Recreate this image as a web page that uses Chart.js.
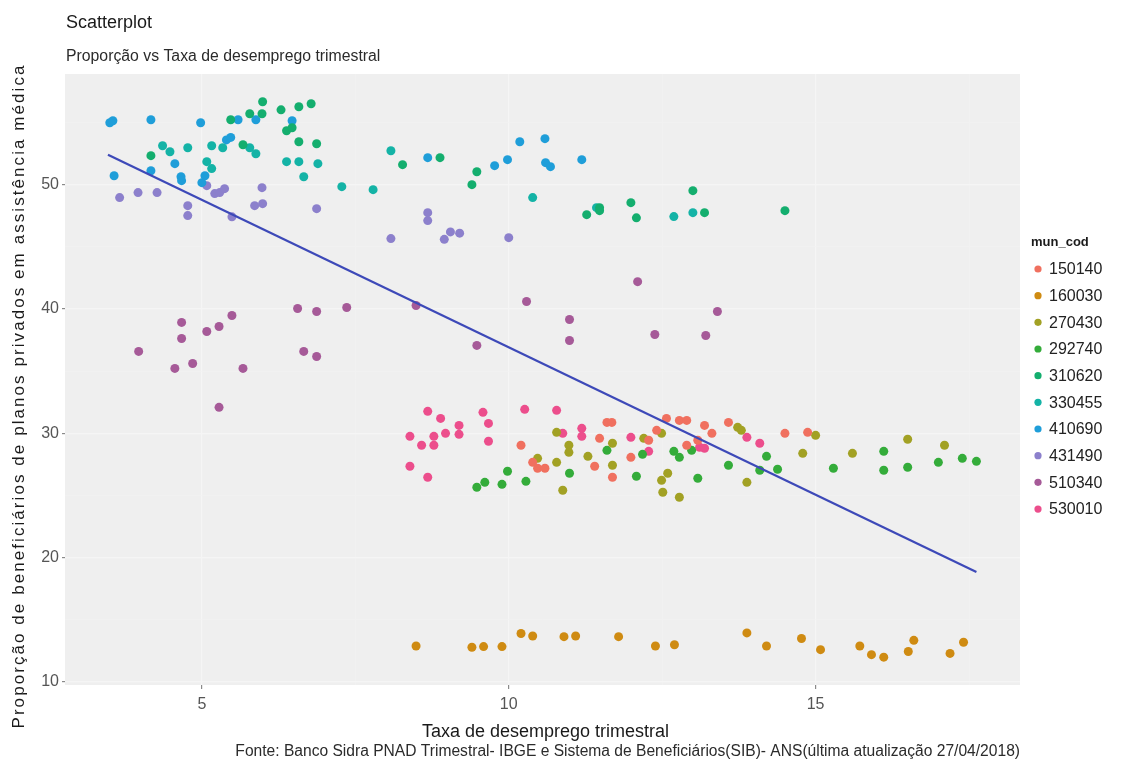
<!DOCTYPE html>
<html>
<head>
<meta charset="utf-8">
<script src="https://cdn.jsdelivr.net/npm/chart.js@4/dist/chart.umd.min.js"></script>
<style>
  html, body { margin: 0; padding: 0; background: #ffffff; }
  #wrap { width: 1136px; height: 767px; position: relative; }
</style>
</head>
<body>
<div id="wrap"><canvas id="c" width="1136" height="767"></canvas></div>
<script>
// ---------- data ----------
const munCod = ['150140','160030','270430','292740','310620','330455','410690','431490','510340','530010'];
const munColors = ['#F0705F','#CF8B12','#A2A124','#34AC3A','#14AE6E','#14B3A6','#1F9ED9','#8C80CC','#A65A98','#EC4E8C'];

const p150140 = [[10.20,29.04],[10.39,27.67],[10.47,27.19],[10.59,27.19],[11.40,27.35],[11.48,29.60],[11.60,30.88],[11.68,30.88],[11.69,26.47],[11.99,28.07],[12.28,29.44],[12.41,30.24],[12.57,31.20],[12.78,31.04],[12.90,31.04],[12.90,29.04],[13.08,29.44],[13.19,30.64],[13.31,30.00],[13.58,30.88],[14.50,30.00],[14.87,30.08]];
const p160030 = [[8.49,12.90],[9.40,12.80],[9.59,12.85],[9.89,12.85],[10.20,13.90],[10.39,13.70],[10.90,13.65],[11.09,13.70],[11.79,13.65],[12.39,12.90],[12.70,13.00],[13.88,13.95],[14.20,12.90],[14.77,13.50],[15.08,12.60],[15.72,12.90],[15.91,12.20],[16.11,12.00],[16.51,12.45],[16.60,13.35],[17.19,12.30],[17.41,13.20]];
const p270430 = [[10.78,30.08],[10.98,29.04],[10.98,28.47],[10.47,27.99],[10.78,27.67],[11.29,28.15],[11.69,29.20],[11.69,27.43],[10.88,25.42],[12.20,29.60],[12.49,30.00],[12.59,26.79],[12.49,26.22],[12.51,25.26],[12.78,24.86],[13.73,30.48],[13.79,30.24],[13.88,26.06],[14.79,28.39],[15.00,29.84],[15.60,28.39],[16.50,29.52],[17.10,29.04]];
const p292740 = [[9.48,25.66],[9.61,26.06],[9.89,25.90],[9.98,26.95],[10.28,26.14],[10.99,26.79],[11.60,28.63],[12.08,26.55],[12.18,28.31],[12.69,28.55],[12.78,28.07],[12.98,28.63],[13.08,26.39],[13.58,27.43],[14.09,27.03],[14.20,28.15],[14.38,27.11],[15.29,27.19],[16.11,28.55],[16.11,27.03],[16.50,27.27],[17.00,27.67],[17.39,27.99],[17.62,27.75]];
const p310620 = [[5.99,56.67],[5.98,55.70],[5.78,55.70],[5.47,55.22],[6.29,56.02],[6.58,56.27],[6.78,56.51],[6.38,54.34],[6.47,54.58],[6.58,53.45],[6.87,53.29],[5.67,53.21],[4.17,52.33],[8.27,51.61],[8.88,52.17],[9.48,51.04],[9.40,50.00],[11.27,47.59],[11.48,48.15],[11.48,47.91],[11.99,48.55],[12.08,47.33],[13.00,49.52],[13.19,47.75],[14.50,47.91]];
const p330455 = [[4.36,53.13],[4.48,52.65],[4.77,52.97],[5.16,53.13],[5.34,52.97],[5.08,51.85],[5.16,51.29],[5.78,52.97],[5.88,52.49],[6.38,51.85],[6.58,51.85],[6.89,51.69],[6.66,50.64],[7.28,49.84],[7.79,49.60],[8.08,52.73],[10.39,48.96],[11.43,48.15],[12.69,47.43],[13.00,47.75]];
const p410690 = [[3.50,54.98],[3.55,55.14],[4.17,55.22],[4.98,54.98],[5.59,55.22],[5.88,55.22],[6.47,55.14],[5.40,53.60],[5.47,53.80],[4.56,51.69],[4.17,51.12],[3.57,50.72],[4.66,50.64],[4.67,50.32],[5.05,50.72],[5.00,50.16],[8.68,52.17],[9.77,51.53],[9.98,52.01],[10.18,53.45],[10.59,53.70],[10.60,51.77],[10.68,51.45],[11.19,52.01]];
const p431490 = [[3.66,48.96],[3.96,49.36],[4.27,49.36],[4.77,48.31],[4.77,47.51],[5.08,49.92],[5.21,49.28],[5.29,49.36],[5.37,49.68],[5.98,49.76],[5.86,48.31],[5.99,48.47],[6.87,48.07],[5.49,47.41],[8.68,47.75],[8.68,47.11],[8.08,45.66],[8.95,45.60],[9.05,46.20],[9.20,46.10],[10.00,45.74]];
const p510340 = [[3.97,36.59],[4.67,38.92],[4.67,37.63],[4.56,35.22],[4.85,35.62],[5.08,38.19],[5.28,38.59],[5.49,39.48],[5.67,35.22],[5.28,32.09],[6.56,40.04],[6.87,39.80],[7.36,40.12],[6.66,36.59],[6.87,36.18],[8.49,40.28],[9.48,37.07],[10.29,40.60],[10.99,39.16],[10.99,37.47],[12.10,42.20],[12.38,37.95],[13.21,37.87],[13.40,39.80]];
const p530010 = [[8.68,31.77],[8.89,31.20],[8.39,29.76],[8.58,29.04],[8.78,29.76],[8.78,29.04],[8.97,30.00],[9.19,30.64],[9.19,29.92],[8.39,27.35],[8.68,26.47],[9.58,31.69],[9.67,30.80],[9.67,29.36],[10.26,31.93],[10.78,31.85],[10.88,30.00],[11.19,30.40],[11.19,29.76],[11.99,29.68],[12.28,28.55],[13.11,28.88],[13.19,28.80],[13.88,29.68],[14.09,29.20]];
const seriesPoints = [p150140,p160030,p270430,p292740,p310620,p330455,p410690,p431490,p510340,p530010];

// fitted linear trend (geom_smooth, method = lm)
const trendX = [3.47, 17.62];
const trendY = [52.40, 18.85];

const xTicks = [5, 10, 15];
const yTicks = [10, 20, 30, 40, 50];

const titleText = 'Scatterplot';
const subtitleText = 'Proporção vs Taxa de desemprego trimestral';
const xTitle = 'Taxa de desemprego trimestral';
const yTitle = 'Proporção de beneficiários de planos privados em assistência médica';
const captionText = 'Fonte: Banco Sidra PNAD Trimestral- IBGE e Sistema de Beneficiários(SIB)- ANS(última atualização 27/04/2018)';
const legendTitle = 'mun_cod';

// ---------- chart ----------
const FONT = '"Liberation Sans", Arial, sans-serif';

const datasets = [{
  type: 'line',
  label: 'trend',
  data: trendX.map((x, i) => ({x: x, y: trendY[i]})),
  borderColor: '#3D49B8',
  borderWidth: 2.2,
  pointRadius: 0,
  fill: false,
  tension: 0
}];
munCod.forEach((m, i) => {
  datasets.push({
    type: 'scatter',
    label: m,
    data: seriesPoints[i].map(p => ({x: p[0], y: p[1]})),
    backgroundColor: munColors[i],
    borderWidth: 0,
    pointRadius: 4.5
  });
});

const decorPlugin = {
  id: 'decor',
  beforeDraw(chart) {
    const ctx = chart.ctx, a = chart.chartArea;
    ctx.save();
    ctx.fillStyle = '#ffffff';
    ctx.fillRect(0, 0, chart.width, chart.height);
    ctx.fillStyle = '#EFEFEF';
    ctx.fillRect(a.left, a.top, a.right - a.left, a.bottom - a.top);
    ctx.restore();
  },
  afterDraw(chart) {
    const ctx = chart.ctx, a = chart.chartArea;
    ctx.save();
    ctx.textBaseline = 'middle';
    // title + subtitle
    ctx.fillStyle = '#1a1a1a';
    ctx.textAlign = 'left';
    ctx.font = '18px ' + FONT;
    ctx.fillText(titleText, 66, 23);
    ctx.fillStyle = '#2b2b2b';
    ctx.font = '15.8px ' + FONT;
    ctx.fillText(subtitleText, 66, 57);
    // x title
    ctx.fillStyle = '#1a1a1a';
    ctx.textAlign = 'center';
    ctx.font = '18px ' + FONT;
    ctx.fillText(xTitle, (a.left + a.right) / 2 + 3, 732);
    // caption
    ctx.textAlign = 'right';
    ctx.fillStyle = '#2b2b2b';
    ctx.font = '15.6px ' + FONT;
    ctx.fillText(captionText, a.right, 752);
    // y title, rotated
    ctx.save();
    ctx.translate(19, 396);
    ctx.rotate(-Math.PI / 2);
    ctx.textAlign = 'center';
    ctx.fillStyle = '#1a1a1a';
    ctx.font = '17px ' + FONT;
    const w = ctx.measureText(yTitle).width;
    if ('letterSpacing' in ctx) {
      const sp = Math.max(0, (663 - w) / (yTitle.length - 1));
      ctx.letterSpacing = sp.toFixed(2) + 'px';
    }
    ctx.fillText(yTitle, 0, 0);
    ctx.restore();
    // legend
    ctx.textAlign = 'left';
    ctx.fillStyle = '#1a1a1a';
    ctx.font = 'bold 13px ' + FONT;
    ctx.fillText(legendTitle, 1031, 242);
    ctx.font = '16px ' + FONT;
    chart.data.datasets.forEach((ds, i) => {
      if (ds.type !== 'scatter') return;
      const k = i - 1;
      const y = 269 + k * 26.67;
      ctx.beginPath();
      ctx.fillStyle = ds.backgroundColor;
      ctx.arc(1038, y, 3.6, 0, Math.PI * 2);
      ctx.fill();
      ctx.fillStyle = '#222222';
      ctx.fillText(ds.label, 1049, y + 1);
    });
    ctx.restore();
  }
};

new Chart(document.getElementById('c'), {
  type: 'scatter',
  data: { datasets: datasets },
  options: {
    responsive: false,
    devicePixelRatio: 1,
    animation: false,
    events: [],
    layout: { padding: { left: 0, top: 74, right: 116, bottom: 25 } },
    plugins: { legend: { display: false }, tooltip: { enabled: false }, title: { display: false } },
    scales: {
      x: {
        type: 'linear',
        min: 2.77, max: 18.33,
        border: { display: false },
        grid: {
          color: c => (c.tick && c.tick.value % 5 === 0) ? '#F5F5F5' : '#F2F2F2',
          lineWidth: c => (c.tick && c.tick.value % 5 === 0) ? 1.2 : 0.6,
          tickLength: 4,
          tickColor: c => (c.tick && xTicks.includes(c.tick.value)) ? '#8a8a8a' : 'rgba(0,0,0,0)'
        },
        ticks: {
          stepSize: 2.5,
          includeBounds: false,
          autoSkip: false,
          maxRotation: 0,
          padding: 6,
          color: '#555555',
          font: { family: FONT, size: 16 },
          callback: v => xTicks.includes(v) ? String(v) : ''
        },
        afterFit: s => { s.height = 57; }
      },
      y: {
        type: 'linear',
        min: 9.76, max: 58.9,
        border: { display: false },
        grid: {
          color: c => (c.tick && c.tick.value % 10 === 0) ? '#F5F5F5' : '#F2F2F2',
          lineWidth: c => (c.tick && c.tick.value % 10 === 0) ? 1.2 : 0.6,
          tickLength: 3,
          tickColor: c => (c.tick && yTicks.includes(c.tick.value)) ? '#8a8a8a' : 'rgba(0,0,0,0)'
        },
        ticks: {
          stepSize: 5,
          includeBounds: false,
          autoSkip: false,
          padding: 3,
          color: '#555555',
          font: { family: FONT, size: 16 },
          callback: v => yTicks.includes(v) ? String(v) : ''
        },
        afterFit: s => { s.width = 65; }
      }
    }
  },
  plugins: [decorPlugin]
});
</script>
</body>
</html>
